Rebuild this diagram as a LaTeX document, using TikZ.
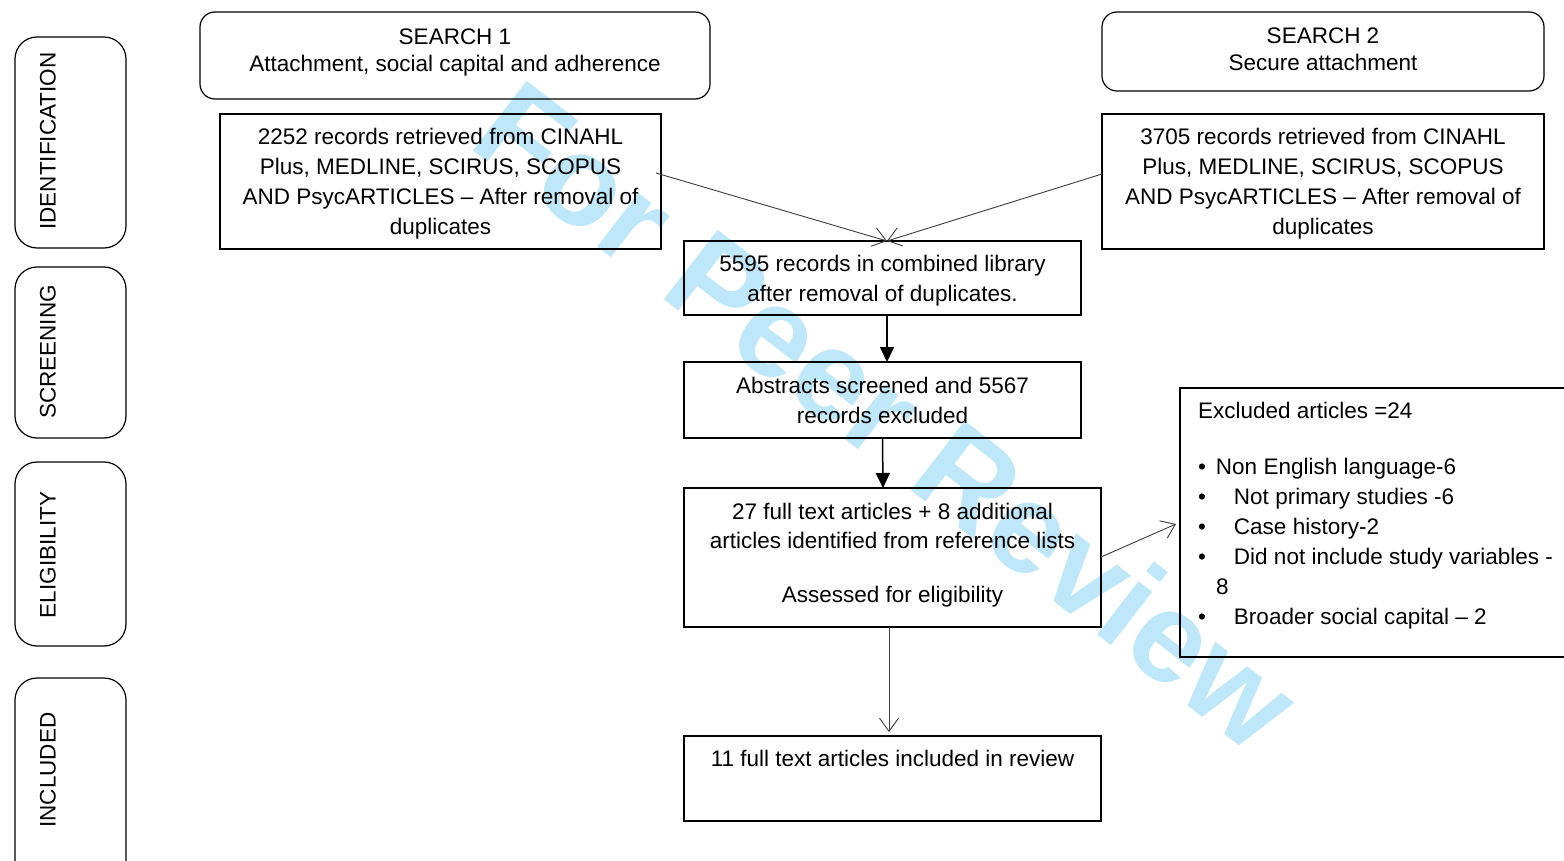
\documentclass[tikz,border=0pt]{standalone}
\usepackage{fontspec}
\setmainfont{Liberation Sans}
\usetikzlibrary{arrows.meta,calc}
\definecolor{wm}{RGB}{190,232,250}
\definecolor{thinline}{RGB}{60,60,60}
\begin{document}
\begin{tikzpicture}[x=1pt,y=-1pt,
  every node/.style={inner sep=0pt, outer sep=0pt},
  txt/.style={font=\fontsize{22.5pt}{30pt}\selectfont, align=center},
  stxt/.style={font=\fontsize{22.5pt}{27pt}\selectfont, align=center},
  flowbox/.style={draw, line width=1.2pt, txt},
  searchbox/.style={draw, line width=1.2pt, rounded corners=15pt, stxt},
  sidebox/.style={draw, line width=1.2pt, rounded corners=22pt, minimum width=111pt},
  sidetxt/.style={font=\fontsize{22.5pt}{27pt}\selectfont, rotate=90},
  thinarrow/.style={draw=thinline, line width=0.9pt, -{Straight Barb[length=13pt,width=19pt,line width=0.9pt]}},
  thickarrow/.style={draw=black, line width=1.5pt, -{Triangle[length=15pt,width=14pt]}}
]
\useasboundingbox (0,0) rectangle (1564,861);
\clip (0,0) rectangle (1564,861);

% watermark
\node[text=wm, rotate=-37.8, font=\bfseries\fontsize{128pt}{128pt}\selectfont] (wmk) at (888,415) {For Peer Review};

% side labels
\node[sidebox, minimum height=211pt] (sb1) at (70.5,142.5) {};
\node[sidetxt] (st1) at (48,141) {IDENTIFICATION};
\node[sidebox, minimum height=171pt] (sb2) at (70.5,352.5) {};
\node[sidetxt] (st2) at (48,352) {SCREENING};
\node[sidebox, minimum height=184pt] (sb3) at (70.5,554) {};
\node[sidetxt] (st3) at (48,555) {ELIGIBILITY};
\node[sidebox, minimum height=220pt] (sb4) at (70.5,788) {};
\node[sidetxt] (st4) at (48,770) {INCLUDED};

% search boxes
\node[searchbox, minimum width=510pt, minimum height=87pt, text depth=10pt] (s1) at (455,55.5) {SEARCH 1\\Attachment, social capital and adherence};
\node[searchbox, minimum width=442pt, minimum height=79pt, text depth=4pt] (s2) at (1323,51.5) {SEARCH 2\\Secure attachment};

% record boxes
\node[flowbox, minimum width=441pt, minimum height=135pt, text depth=0pt] (A) at (440.5,181.5) {2252 records retrieved from CINAHL\\Plus, MEDLINE, SCIRUS, SCOPUS\\AND PsycARTICLES -- After removal of\\duplicates};
\node[flowbox, minimum width=442pt, minimum height=135pt, text depth=0pt] (B) at (1323,181.5) {3705 records retrieved from CINAHL\\Plus, MEDLINE, SCIRUS, SCOPUS\\AND PsycARTICLES -- After removal of\\duplicates};

\node[flowbox, minimum width=397pt, minimum height=74pt, text depth=0pt] (C) at (882.5,278) {5595 records in combined library\\after removal of duplicates.};
\node[flowbox, minimum width=397pt, minimum height=76pt] (D) at (882.5,400) {Abstracts screened and 5567\\records excluded};
\node[flowbox, minimum width=417pt, minimum height=139pt, text depth=10pt] (E) at (892.5,557.5) {27 full text articles + 8 additional\\[-1pt]articles identified from reference lists\\[24pt]Assessed for eligibility};
\node[flowbox, minimum width=417pt, minimum height=85pt] (G) at (892.5,778.5) {11 full text articles included in review\\[10pt]\mbox{}};

% excluded box
\node[draw, line width=1.2pt, minimum width=400pt, minimum height=269pt, anchor=north west] (F) at (1180,388) {};
\node[txt, align=left, anchor=north west] (Ft) at ($(F.north west)+(18,14)$) {Excluded articles =24\\[26pt]%
\makebox[18pt][l]{•}Non English language-6\\
\makebox[36pt][l]{•}Not primary studies -6\\
\makebox[36pt][l]{•}Case history-2\\
\makebox[36pt][l]{•}Did not include study variables -\\
\hspace*{18pt}8\\
\makebox[36pt][l]{•}Broader social capital -- 2};

% connectors
\coordinate (m) at (887,241);
\draw[thinarrow] ($(A.north east)+(-5,59)$) -- (m);
\draw[thinarrow] ($(B.north west)+(0,60)$) -- (m);
\draw[thickarrow] ($(C.south)+(4.5,0)$) -- ($(D.north)+(4.5,0)$);
\draw[thickarrow] (D.south) -- ($(E.north)+(-9.5,0)$);
\draw[thinarrow] ($(E.north east)+(0,69)$) -- ($(F.north west)+(-4,136)$);
\draw[thinarrow] ($(E.south)+(-3.5,0)$) -- ($(G.north)+(-3.5,-4)$);
\end{tikzpicture}
\end{document}
